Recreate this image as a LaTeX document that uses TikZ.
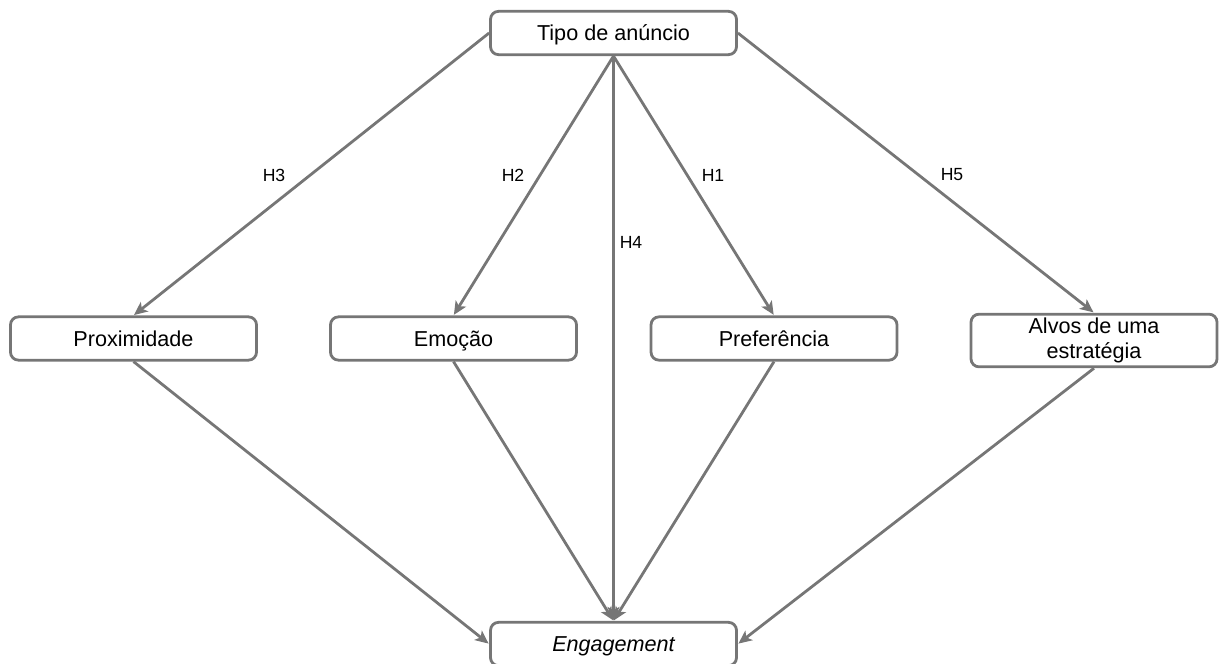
\documentclass[tikz,border=0pt]{standalone}
\usepackage{fontspec}
\setmainfont{Liberation Sans}
\usetikzlibrary{arrows.meta}
\definecolor{linegray}{RGB}{118,118,118}
\tikzset{
  box/.style={draw=linegray, line width=2.1pt, rounded corners=6pt, fill=white,
    minimum width=184.5pt, minimum height=32.5pt, inner sep=2pt,
    align=center, font=\fontsize{16.2pt}{18.5pt}\selectfont},
  onebox/.style={box, text height=13.2pt, text depth=1.8pt},
  conn/.style={draw=linegray, line width=2.1pt,
    -{Stealth[length=10pt,width=9pt,inset=2.5pt]}, shorten >=0.5pt},
  hlabel/.style={font=\fontsize{13.2pt}{15pt}\selectfont, inner sep=0pt}
}
\begin{document}
\begin{tikzpicture}[x=0.75pt, y=-0.75pt]
\useasboundingbox (0,0) rectangle (1219,663);
\clip (0,0) rectangle (1219,663);
\node[onebox] (tipo) at (613.5,33) {Tipo de anúncio};
\node[onebox] (prox) at (133.5,338.5) {Proximidade};
\node[onebox] (emo) at (453.5,338.5) {Emoção};
\node[onebox] (pref) at (774,338.5) {Preferência};
\node[box, minimum height=39.5pt] (alvos) at (1094,340.5) {Alvos de uma\\estratégia};
\node[onebox] (eng) at (613.5,644) {\itshape Engagement};

\node[hlabel] (h3) at (274,175) {H3};
\node[hlabel] (h2) at (513,175) {H2};
\node[hlabel] (h4) at (631,242) {H4};
\node[hlabel] (h1) at (713,175) {H1};
\node[hlabel] (h5) at (952,175) {H5};

\draw[conn] (tipo.west) -- (prox.north);
\draw[conn] (tipo.south) -- (emo.north);
\draw[conn] (tipo.south) -- (eng.north);
\draw[conn] (tipo.south) -- (pref.north);
\draw[conn] (tipo.east) -- (alvos.north);

\draw[conn] (prox.south) -- (eng.west);
\draw[conn] (emo.south) -- (eng.north);
\draw[conn] (pref.south) -- (eng.north);
\draw[conn] (alvos.south) -- (eng.east);
\end{tikzpicture}
\end{document}
